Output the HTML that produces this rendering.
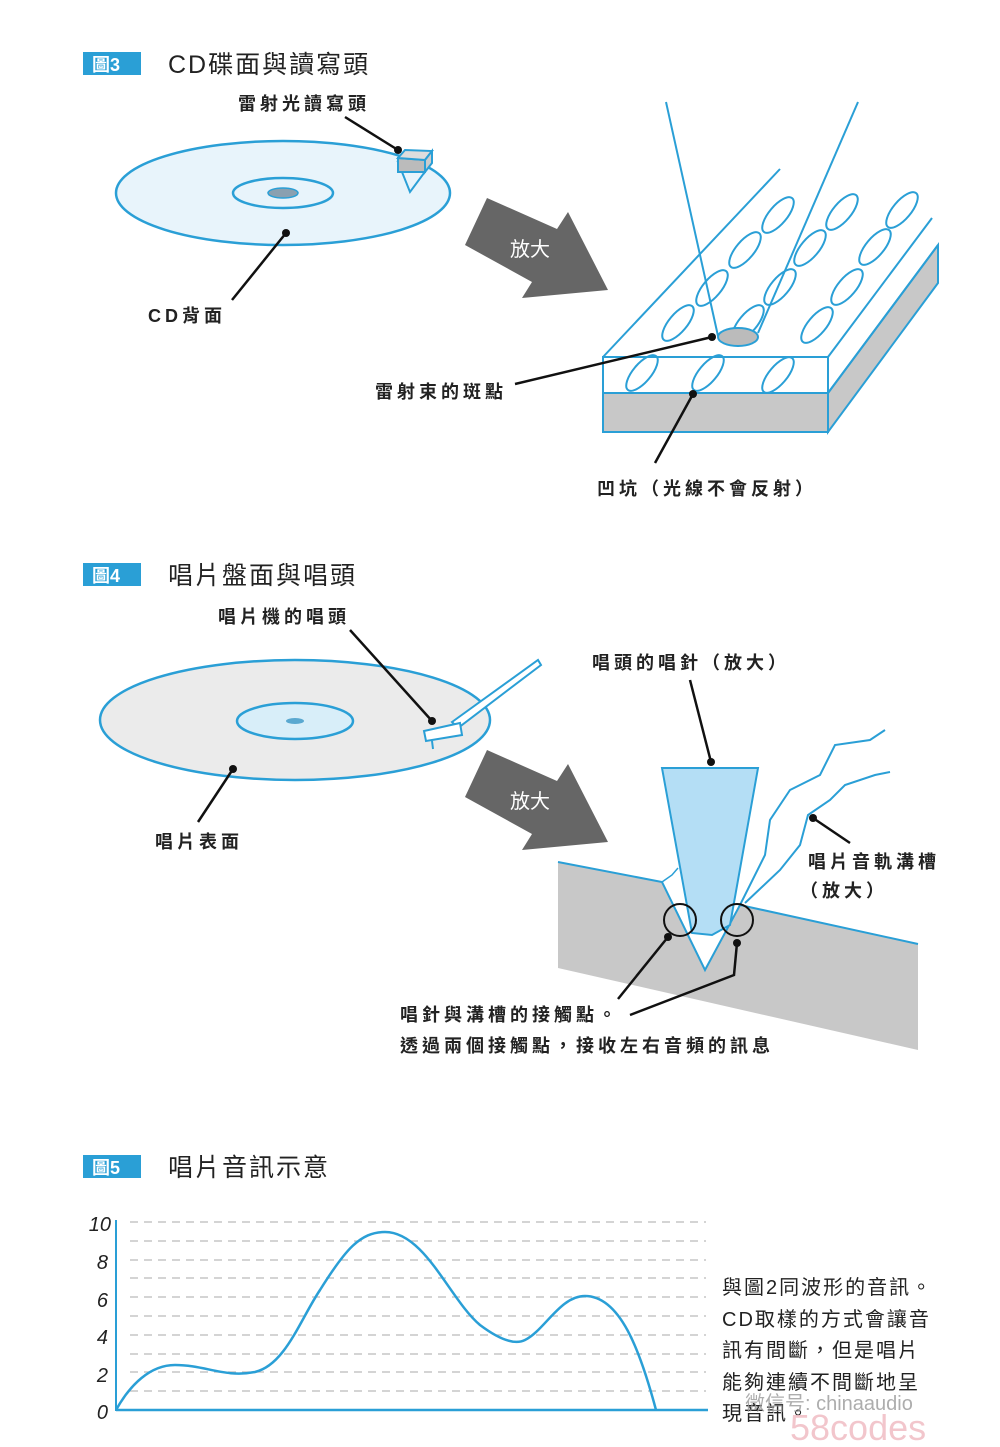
<!DOCTYPE html>
<html><head><meta charset="utf-8"><style>
html,body{margin:0;padding:0;background:#fff;}
svg{display:block;}
text{font-family:"Liberation Sans","Noto Sans CJK TC",sans-serif;}
.t{letter-spacing:2px;}
.l{letter-spacing:4px;}
</style></head><body>
<svg width="1000" height="1447" viewBox="0 0 1000 1447" xmlns="http://www.w3.org/2000/svg">
<!-- FIG 3 -->
<rect x="83" y="52" width="58" height="23" fill="#2a9fd6"/>
<text x="92" y="71" font-size="18" fill="#fff" font-weight="bold">圖3</text>
<text class="t" x="168" y="73" font-size="25" fill="#222">CD碟面與讀寫頭</text>
<text class="l" x="238" y="110" font-size="18" font-weight="bold" fill="#222">雷射光讀寫頭</text>
<line x1="345" y1="117" x2="398" y2="150" stroke="#111" stroke-width="2.5"/>
<circle cx="398" cy="150" r="4" fill="#111"/>
<ellipse cx="283" cy="193" rx="167" ry="52" fill="#e8f4fb" stroke="#2a9fd6" stroke-width="2.5"/>
<ellipse cx="283" cy="193" rx="50" ry="15" fill="none" stroke="#2a9fd6" stroke-width="2.5"/>
<ellipse cx="283" cy="193" rx="15" ry="5" fill="#8aa0b0" stroke="#2a9fd6" stroke-width="1.5"/>
<polygon points="398,162 430,165 410,192" fill="#e8f4fb" stroke="#2a9fd6" stroke-width="2"/>
<polygon points="398,158 425,160 425,172 398,172" fill="#bbb" stroke="#2a9fd6" stroke-width="2"/>
<polygon points="398,158 405,150 432,151 425,160" fill="#ddd" stroke="#2a9fd6" stroke-width="2"/>
<polygon points="425,160 432,151 432,163 425,172" fill="#ccc" stroke="#2a9fd6" stroke-width="2"/>
<circle cx="286" cy="233" r="4" fill="#111"/>
<line x1="286" y1="233" x2="232" y2="300" stroke="#111" stroke-width="2.5"/>
<text class="l" x="148" y="322" font-size="18" font-weight="bold" fill="#222">CD背面</text>
<polygon points="487,198 557,229 568,212 608,290 522,298 532,282 465,245" fill="#666"/>
<text x="510" y="256" font-size="20" fill="#fff">放大</text>
<!-- block -->
<polygon points="828,393 938,245 938,283 828,432" fill="#c8c8c8" stroke="#2a9fd6" stroke-width="2"/>
<rect x="603" y="393" width="225" height="39" fill="#c8c8c8" stroke="#2a9fd6" stroke-width="2"/>
<rect x="603" y="357" width="225" height="36" fill="#fff" stroke="#2a9fd6" stroke-width="2"/>
<line x1="603" y1="357" x2="780" y2="169" stroke="#2a9fd6" stroke-width="2"/>
<line x1="828" y1="357" x2="932" y2="218" stroke="#2a9fd6" stroke-width="2"/>
<line x1="828" y1="393" x2="938" y2="245" stroke="#2a9fd6" stroke-width="2"/>
<g fill="none" stroke="#2a9fd6" stroke-width="2">
<ellipse cx="778" cy="215" rx="22" ry="9" transform="rotate(-50 778 215)"/>
<ellipse cx="842" cy="212" rx="22" ry="9" transform="rotate(-50 842 212)"/>
<ellipse cx="902" cy="210" rx="22" ry="9" transform="rotate(-50 902 210)"/>
<ellipse cx="745" cy="250" rx="22" ry="9" transform="rotate(-50 745 250)"/>
<ellipse cx="810" cy="248" rx="22" ry="9" transform="rotate(-50 810 248)"/>
<ellipse cx="875" cy="247" rx="22" ry="9" transform="rotate(-50 875 247)"/>
<ellipse cx="712" cy="288" rx="22" ry="9" transform="rotate(-50 712 288)"/>
<ellipse cx="780" cy="287" rx="22" ry="9" transform="rotate(-50 780 287)"/>
<ellipse cx="847" cy="287" rx="22" ry="9" transform="rotate(-50 847 287)"/>
<ellipse cx="678" cy="323" rx="22" ry="9" transform="rotate(-50 678 323)"/>
<ellipse cx="748" cy="323" rx="22" ry="9" transform="rotate(-50 748 323)"/>
<ellipse cx="817" cy="325" rx="22" ry="9" transform="rotate(-50 817 325)"/>
<ellipse cx="642" cy="373" rx="22" ry="9" transform="rotate(-50 642 373)"/>
<ellipse cx="708" cy="373" rx="22" ry="9" transform="rotate(-50 708 373)"/>
<ellipse cx="778" cy="375" rx="22" ry="9" transform="rotate(-50 778 375)"/>
</g>
<line x1="666" y1="102" x2="718" y2="336" stroke="#2a9fd6" stroke-width="2"/>
<line x1="858" y1="102" x2="758" y2="333" stroke="#2a9fd6" stroke-width="2"/>
<ellipse cx="738" cy="337" rx="20" ry="9" fill="#bbb" stroke="#2a9fd6" stroke-width="2"/>
<circle cx="712" cy="337" r="4" fill="#111"/>
<line x1="712" y1="337" x2="515" y2="384" stroke="#111" stroke-width="2.5"/>
<text class="l" x="375" y="398" font-size="18" font-weight="bold" fill="#222">雷射束的斑點</text>
<circle cx="693" cy="394" r="4" fill="#111"/>
<line x1="693" y1="394" x2="655" y2="463" stroke="#111" stroke-width="2.5"/>
<text class="l" x="597" y="495" font-size="18" font-weight="bold" fill="#222">凹坑（光線不會反射）</text>

<!-- FIG 4 -->
<rect x="83" y="563" width="58" height="23" fill="#2a9fd6"/>
<text x="92" y="582" font-size="18" fill="#fff" font-weight="bold">圖4</text>
<text class="t" x="168" y="584" font-size="25" fill="#222">唱片盤面與唱頭</text>
<text class="l" x="218" y="623" font-size="18" font-weight="bold" fill="#222">唱片機的唱頭</text>
<ellipse cx="295" cy="720" rx="195" ry="60" fill="#ebebeb" stroke="#2a9fd6" stroke-width="2.5"/>
<ellipse cx="295" cy="721" rx="58" ry="18" fill="#d8eef9" stroke="#2a9fd6" stroke-width="2.5"/>
<ellipse cx="295" cy="721" rx="9" ry="3" fill="#5aa8d0"/>
<polygon points="452,722 538,660 541,665 458,728" fill="#fff" stroke="#2a9fd6" stroke-width="2"/>
<polygon points="424,731 460,723 462,735 426,741" fill="#fff" stroke="#2a9fd6" stroke-width="2"/>
<line x1="432" y1="741" x2="433" y2="749" stroke="#2a9fd6" stroke-width="2"/>
<line x1="350" y1="630" x2="432" y2="721" stroke="#111" stroke-width="2.5"/>
<circle cx="432" cy="721" r="4" fill="#111"/>
<circle cx="233" cy="769" r="4" fill="#111"/>
<line x1="233" y1="769" x2="198" y2="822" stroke="#111" stroke-width="2.5"/>
<text class="l" x="155" y="848" font-size="18" font-weight="bold" fill="#222">唱片表面</text>
<polygon points="487,750 557,781 568,764 608,842 522,850 532,834 465,797" fill="#666"/>
<text x="510" y="808" font-size="20" fill="#fff">放大</text>
<!-- groove -->
<polygon points="558,862 662,882 705,970 740,905 918,944 918,1050 558,968" fill="#c8c8c8"/>
<polyline points="558,862 662,882 705,970 740,905 918,944" fill="none" stroke="#2a9fd6" stroke-width="2"/>
<polygon points="662,768 758,768 730,925 712,935 692,933" fill="#b4def5" stroke="#2a9fd6" stroke-width="2"/>
<polyline points="740,905 765,855 770,820 790,790 820,775 835,745 870,740 885,730" fill="none" stroke="#2a9fd6" stroke-width="2"/>
<polyline points="745,903 780,870 800,845 808,815 830,800 845,785 875,775 890,772" fill="none" stroke="#2a9fd6" stroke-width="2"/>
<polyline points="662,882 672,875 678,868" fill="none" stroke="#2a9fd6" stroke-width="1.5"/>
<circle cx="680" cy="920" r="16" fill="none" stroke="#111" stroke-width="2"/>
<circle cx="737" cy="920" r="16" fill="none" stroke="#111" stroke-width="2"/>
<text class="l" x="592" y="669" font-size="18" font-weight="bold" fill="#222">唱頭的唱針（放大）</text>
<line x1="690" y1="680" x2="711" y2="762" stroke="#111" stroke-width="2.5"/>
<circle cx="711" cy="762" r="4" fill="#111"/>
<circle cx="813" cy="818" r="4" fill="#111"/>
<line x1="813" y1="818" x2="850" y2="843" stroke="#111" stroke-width="2.5"/>
<text class="l" x="808" y="868" font-size="18" font-weight="bold" fill="#222">唱片音軌溝槽</text>
<text class="l" x="800" y="897" font-size="18" font-weight="bold" fill="#222">（放大）</text>
<circle cx="668" cy="937" r="4" fill="#111"/>
<line x1="668" y1="937" x2="618" y2="999" stroke="#111" stroke-width="2.5"/>
<circle cx="737" cy="943" r="4" fill="#111"/>
<polyline points="737,943 734,975 630,1015" fill="none" stroke="#111" stroke-width="2.5"/>
<text class="l" x="400" y="1021" font-size="18" font-weight="bold" fill="#222">唱針與溝槽的接觸點。</text>
<text class="l" x="400" y="1052" font-size="18" font-weight="bold" fill="#222">透過兩個接觸點，接收左右音頻的訊息</text>

<!-- FIG 5 -->
<rect x="83" y="1155" width="58" height="23" fill="#2a9fd6"/>
<text x="92" y="1174" font-size="18" fill="#fff" font-weight="bold">圖5</text>
<text class="t" x="168" y="1176" font-size="25" fill="#222">唱片音訊示意</text>
<g stroke="#bbb" stroke-width="1.3" stroke-dasharray="8,6">
<line x1="130" y1="1222" x2="706" y2="1222"/><line x1="130" y1="1241" x2="706" y2="1241"/>
<line x1="130" y1="1260" x2="706" y2="1260"/><line x1="130" y1="1278" x2="706" y2="1278"/>
<line x1="130" y1="1297" x2="706" y2="1297"/><line x1="130" y1="1316" x2="706" y2="1316"/>
<line x1="130" y1="1335" x2="706" y2="1335"/><line x1="130" y1="1354" x2="706" y2="1354"/>
<line x1="130" y1="1372" x2="706" y2="1372"/><line x1="130" y1="1391" x2="706" y2="1391"/>
</g>
<line x1="116" y1="1220" x2="116" y2="1411" stroke="#2a9fd6" stroke-width="2"/>
<line x1="116" y1="1410" x2="708" y2="1410" stroke="#2a9fd6" stroke-width="2.5"/>
<g font-size="20" font-style="italic" fill="#222" text-anchor="end">
<text x="111" y="1231">10</text><text x="108" y="1269">8</text><text x="108" y="1307">6</text>
<text x="108" y="1344">4</text><text x="108" y="1382">2</text><text x="108" y="1419">0</text>
</g>
<path d="M116,1410 C130,1385 150,1365 175,1365 C205,1365 225,1378 255,1372 C285,1365 300,1320 320,1290 C345,1250 360,1232 385,1232 C425,1232 450,1300 480,1325 C500,1340 515,1345 525,1340 C545,1330 560,1296 585,1296 C620,1296 640,1350 656,1410" fill="none" stroke="#2a9fd6" stroke-width="2.5"/>
<g font-size="20" fill="#222" class="t">
<text x="722" y="1294">與圖2同波形的音訊。</text>
<text x="722" y="1326">CD取樣的方式會讓音</text>
<text x="722" y="1357">訊有間斷，但是唱片</text>
<text x="722" y="1389">能夠連續不間斷地呈</text>
<text x="722" y="1420">現音訊。</text>
</g>
<text x="745" y="1410" font-size="20" fill="#999" opacity="0.8">微信号: chinaaudio</text>
<text x="790" y="1440" font-size="36" fill="#f0b8c0" opacity="0.8" font-family="Liberation Serif,serif">58codes</text>
</svg>
</body></html>
